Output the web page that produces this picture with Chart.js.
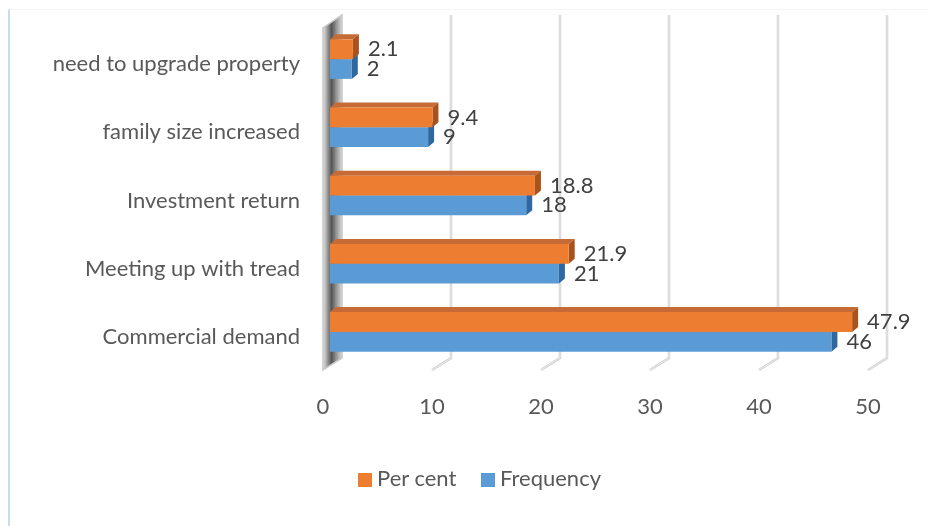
<!DOCTYPE html>
<html>
<head>
<meta charset="utf-8">
<script src="https://cdn.jsdelivr.net/npm/chart.js@4"></script>
<style>
    html, body { margin: 0; padding: 0; background: #fff; }
    #wrap { position: relative; width: 927px; height: 526px; overflow: hidden; font-family: Lato, "DejaVu Sans", sans-serif; }
    #frame { position: absolute; left: 8px; top: 9px; right: 0; bottom: 0;
             border-left: 2px solid #c6dcf1; border-top: 1px solid #f4f4f4; }
    canvas { position: absolute; left: 0; top: 0; }
    .key { position: absolute; top: 465px; height: 26px; line-height: 26px; font-size: 22px; color: #595959; white-space: nowrap; }
    .key i { display: inline-block; width: 14px; height: 14px; margin-right: 5px; vertical-align: -1px; }
</style>
</head>
<body>
<div id="wrap">
    <div id="frame"></div>
    <canvas id="chart" width="927" height="526"></canvas>
    <div id="legend"></div>
</div>
<script>
const categories = ['need to upgrade property', 'family size increased', 'Investment return', 'Meeting up with tread', 'Commercial demand'];
const perCent = [2.1, 9.4, 18.8, 21.9, 47.9];
const frequency = [2, 9, 18, 21, 46];
const xTicks = [0, 10, 20, 30, 40, 50];
const seriesNames = ['Per cent', 'Frequency'];
const seriesColors = ['#ed7d31', '#5b9bd5'];

const FONT = 'Lato, "DejaVu Sans", sans-serif';
const DX = 6, DY = -5; // bar depth

// wall, gridlines and bar sides, drawn behind the bar fronts
const backdrop = {
    id: 'backdrop',
    beforeDatasetsDraw(chart) {
        const { ctx, chartArea } = chart;
        const x = chart.scales.x;
        const top = chartArea.top - 10, bottom = chartArea.bottom - 8;
        const back = 12, front = -7, drop = 12;
        ctx.save();

        // left wall
        const x0 = x.getPixelForValue(0);
        const g = ctx.createLinearGradient(x0 + front, 0, x0 + back, 0);
        g.addColorStop(0, '#e6e6e6');
        g.addColorStop(0.45, '#555555');
        g.addColorStop(0.75, '#a0a0a0');
        g.addColorStop(1, '#dadada');
        ctx.fillStyle = g;
        ctx.beginPath();
        ctx.moveTo(x0 + back, top);
        ctx.lineTo(x0 + back, bottom);
        ctx.lineTo(x0 + front, bottom + drop);
        ctx.lineTo(x0 + front, top + 13);
        ctx.closePath();
        ctx.fill();
        ctx.strokeStyle = '#c8c8c8';
        ctx.lineWidth = 1.5;
        ctx.stroke();

        // gridlines on the back wall with a slanted floor piece
        const grid = (color, w) => {
            ctx.strokeStyle = color;
            ctx.lineWidth = w;
            xTicks.slice(1).forEach(v => {
                const px = x.getPixelForValue(v);
                ctx.beginPath();
                ctx.moveTo(px + back, top);
                ctx.lineTo(px + back, bottom);
                ctx.lineTo(px + front, bottom + drop);
                ctx.stroke();
            });
        };
        grid('#cfcfcf', 2.5);
        grid('#f2f2f2', 0.8);

        // bar tops and sides
        const faces = [
            { top: '#c66b36', side: '#a9521b' },
            { top: '#3f7fbe', side: '#2f67a0' }
        ];
        [1, 0].forEach(di => {
            chart.getDatasetMeta(di).data.forEach(bar => {
                const h = bar.height / 2;
                const t = bar.y - h, b = bar.y + h;
                const s = bar.base, e = bar.x;
                ctx.fillStyle = faces[di].top;
                ctx.beginPath();
                ctx.moveTo(s, t);
                ctx.lineTo(s + DX, t + DY);
                ctx.lineTo(e + DX, t + DY);
                ctx.lineTo(e, t);
                ctx.closePath();
                ctx.fill();
                ctx.fillStyle = faces[di].side;
                ctx.beginPath();
                ctx.moveTo(e, t);
                ctx.lineTo(e + DX, t + DY);
                ctx.lineTo(e + DX, b + DY);
                ctx.lineTo(e, b);
                ctx.closePath();
                ctx.fill();
            });
        });
        ctx.restore();
    },
    afterDatasetsDraw(chart) {
        const { ctx } = chart;
        ctx.save();
        ctx.font = '22px ' + FONT;
        ctx.fillStyle = '#404040';
        ctx.textAlign = 'left';
        ctx.textBaseline = 'middle';
        chart.data.datasets.forEach((ds, di) => {
            chart.getDatasetMeta(di).data.forEach((bar, i) => {
                ctx.fillText(String(ds.data[i]), bar.x + 15, bar.y);
            });
        });
        ctx.restore();
    }
};

function frontFill(base, light, dark) {
    return (context) => {
        const el = context.element;
        if (!el || el.height === undefined) return base;
        const h = el.height / 2;
        const g = context.chart.ctx.createLinearGradient(0, el.y - h, 0, el.y + h);
        g.addColorStop(0, light);
        g.addColorStop(0.5, base);
        g.addColorStop(1, dark);
        return g;
    };
}

new Chart(document.getElementById('chart'), {
    type: 'bar',
    data: {
        labels: categories,
        datasets: [
            {
                label: seriesNames[0],
                data: perCent,
                backgroundColor: frontFill(seriesColors[0], '#f59150', '#e56f1f'),
                borderWidth: 0,
                categoryPercentage: 0.58,
                barPercentage: 1
            },
            {
                label: seriesNames[1],
                data: frequency,
                backgroundColor: frontFill(seriesColors[1], '#6aa9e2', '#4a89c6'),
                borderWidth: 0,
                categoryPercentage: 0.58,
                barPercentage: 1
            }
        ]
    },
    options: {
        indexAxis: 'y',
        responsive: false,
        animation: false,
        layout: { padding: { top: 25, right: 52, bottom: 71, left: 0 } },
        plugins: {
            legend: { display: false },
            tooltip: { enabled: false }
        },
        scales: {
            x: {
                min: 0,
                max: 50,
                ticks: {
                    stepSize: 10,
                    color: '#595959',
                    font: { family: FONT, size: 22 },
                    padding: 28,
                    labelOffset: -7
                },
                grid: { display: false, drawTicks: false },
                border: { display: false },
                afterFit(scale) { scale.height = 89; }
            },
            y: {
                ticks: {
                    color: '#595959',
                    font: { family: FONT, size: 22 },
                    padding: 30,
                    labelOffset: 5
                },
                grid: { display: false, drawTicks: false },
                border: { display: false },
                afterFit(scale) {
                    scale.width = 330;
                    scale.paddingTop = 0;
                    scale.paddingBottom = 0;
                }
            }
        }
    },
    plugins: [backdrop]
});

// legend
const legendLeft = [358, 481];
document.getElementById('legend').innerHTML = seriesNames.map((name, i) =>
    `<div class="key" style="left:${legendLeft[i]}px"><i style="background:${seriesColors[i]}"></i>${name}</div>`
).join('');
</script>
</body>
</html>
